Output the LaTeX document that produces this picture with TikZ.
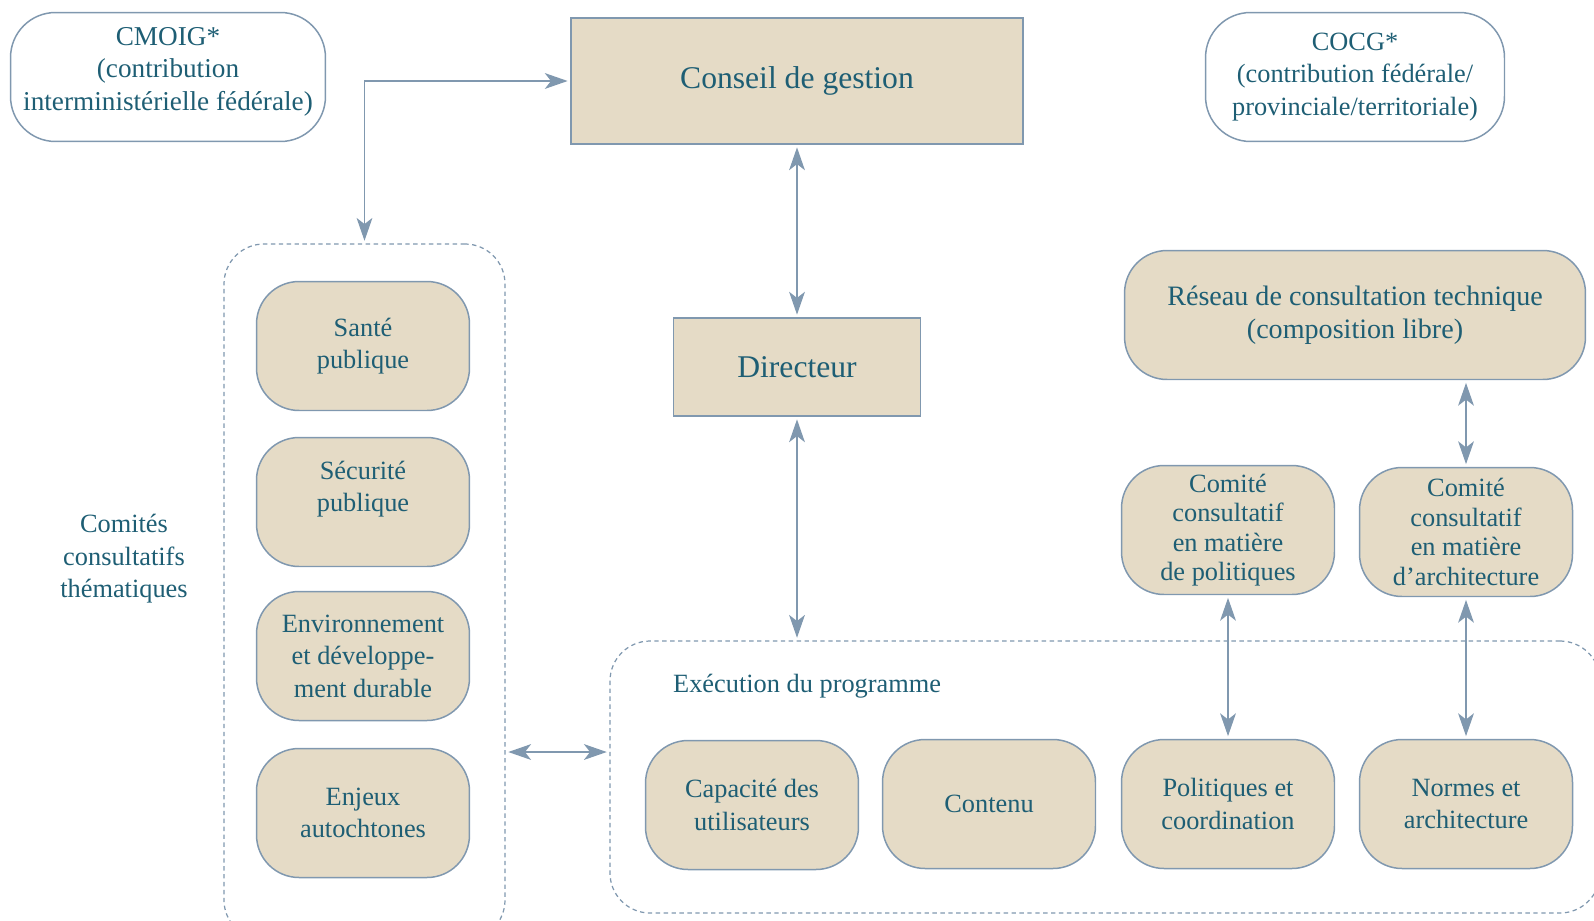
\documentclass[tikz,border=0pt]{standalone}
\usepackage{fontspec}
\setmainfont{Liberation Serif}
\usetikzlibrary{arrows.meta,fit}
\definecolor{texte}{RGB}{30,94,116}
\definecolor{beige}{RGB}{229,219,198}
\definecolor{bord}{RGB}{128,152,175}
\begin{document}
\begin{tikzpicture}[x=0.02cm,y=-0.02cm,
  every node/.style={text=texte,font=\fontsize{15}{18.5}\selectfont,align=center},
  boite/.style={draw=bord,line width=0.85pt,fill=beige},
  bulle/.style={boite,rounded corners=0.85cm,minimum width=4.26cm,minimum height=2.58cm},
  ovale/.style={draw=bord,line width=0.85pt,rounded corners=0.9cm,minimum height=2.58cm},
  groupe/.style={draw=bord,line width=0.7pt,dash pattern=on 2.5pt off 2pt,rounded corners=0.8cm,inner sep=0pt},
  lien/.style={draw=bord,line width=0.75pt,{Stealth[length=13pt,width=9pt,inset=3.5pt]}-{Stealth[length=13pt,width=9pt,inset=3.5pt]},shorten <=1.5pt,shorten >=1.5pt}]
\useasboundingbox (0,0) rectangle (1594,920);
\clip (0,0) rectangle (1594,920);
% haut
\node[ovale,minimum width=6.3cm,font=\fontsize{15.5}{18.5}\selectfont,text depth=9.5pt] (cmoig) at (168,77) {CMOIG*\\(contribution\\interministérielle fédérale)};
\node[boite,minimum width=9.04cm,minimum height=2.52cm,font=\fontsize{18}{21}\selectfont] (conseil) at (797,81) {Conseil de gestion};
\node[ovale,minimum width=5.98cm] (cocg) at (1355,77) {COCG*\\(contribution fédérale/\\provinciale/territoriale)};
\node[boite,minimum width=4.94cm,minimum height=1.96cm,font=\fontsize{18}{21}\selectfont] (directeur) at (797,367) {Directeur};
% comites thematiques
\node[groupe,fit={(224,244) (505,940)}] (comites) {};
\node (themes) at (124,559) {Comités\\consultatifs\\thématiques};
\node[bulle] (sante) at (363,346) {Santé\\publique};
\node[bulle,text depth=18pt] (securite) at (363,502) {Sécurité\\publique};
\node[bulle] (environ) at (363,656) {Environnement\\et développe-\\ment durable};
\node[bulle] (enjeux) at (363,813) {Enjeux\\autochtones};
% execution
\node[groupe,fit={(610,641) (1600,913)}] (execution) {};
\node[anchor=west] (titre) at (667,686) {Exécution du programme};
\node[bulle] (capacite) at (752,805) {Capacité des\\utilisateurs};
\node[bulle] (contenu) at (989,804) {Contenu};
\node[bulle] (politiques) at (1228,804) {Politiques et\\coordination};
\node[bulle] (normes) at (1466,804) {Normes et\\architecture};
% consultation
\node[bulle,minimum width=9.22cm,font=\fontsize{16}{18.5}\selectfont] (reseau) at (1355,315) {Réseau de consultation technique\\(composition libre)};
\node[bulle,font=\fontsize{15}{16.8}\selectfont] (compol) at (1228,530) {Comité\\consultatif\\en matière\\de politiques};
\node[bulle,font=\fontsize{15}{16.8}\selectfont] (comarch) at (1466,532) {Comité\\consultatif\\en matière\\d’architecture};
% liens
\coordinate (h) at (560,752);
\draw[lien] (comites.north) |- (conseil.west);
\draw[lien] (conseil) -- (directeur);
\draw[lien] (directeur) -- (directeur |- execution.north);
\draw[lien] (comites.east |- h) -- (execution.west |- h);
\draw[lien] (reseau.south -| comarch) -- (comarch);
\draw[lien] (compol.south) -- (compol.south |- politiques.north);
\draw[lien] (comarch.south) -- (comarch.south |- normes.north);
\end{tikzpicture}
\end{document}
